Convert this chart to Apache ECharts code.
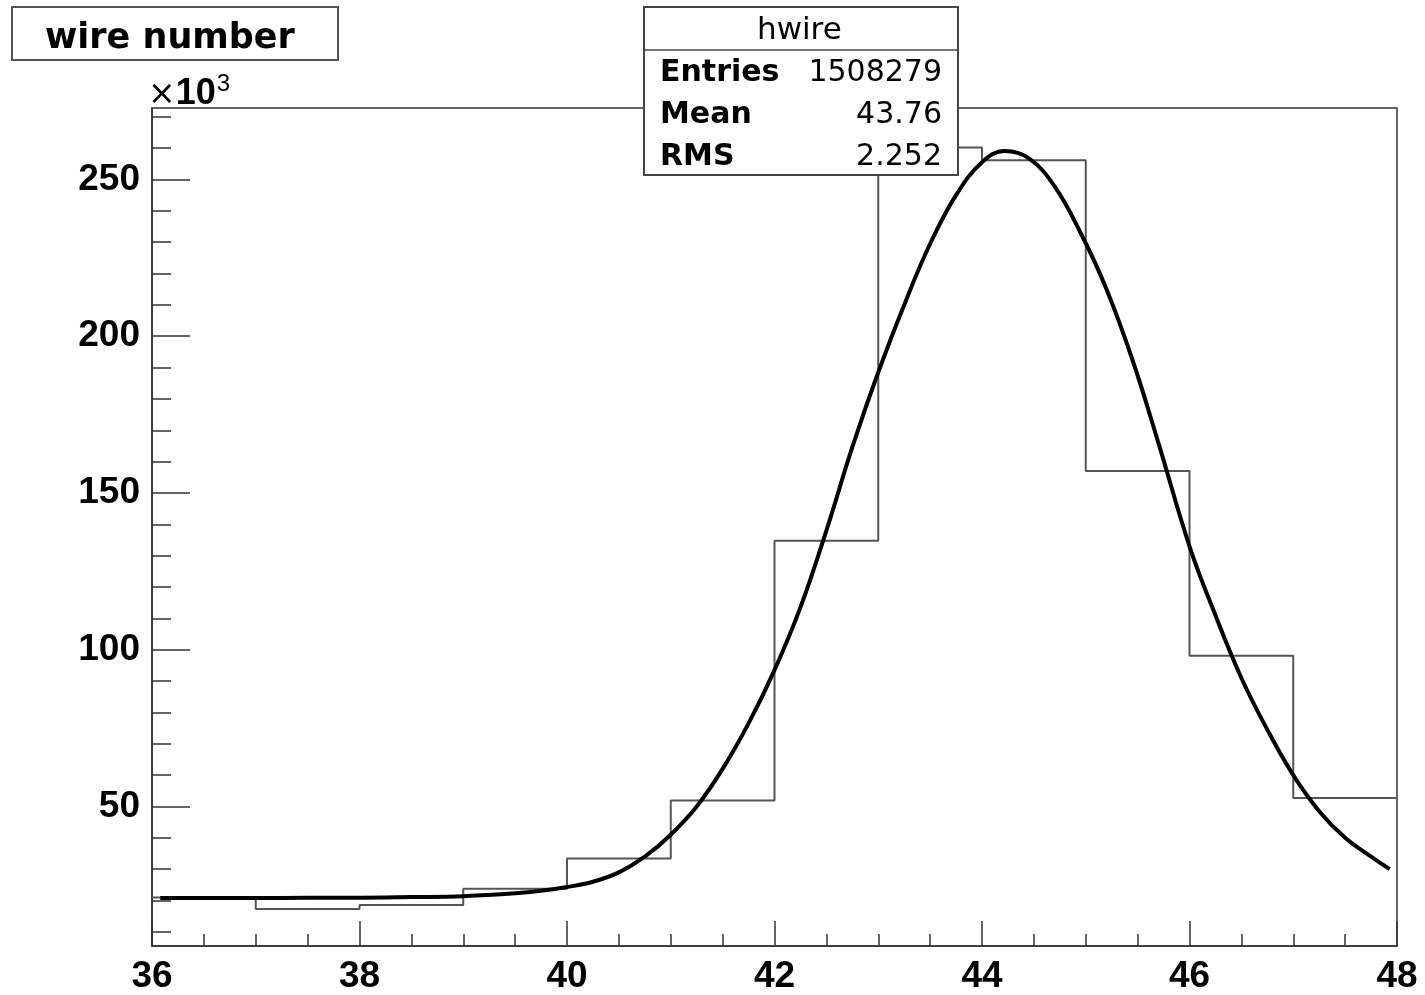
<!DOCTYPE html>
<html>
<head>
<meta charset="utf-8">
<script src="https://cdn.jsdelivr.net/npm/echarts@6/dist/echarts.min.js"></script>
<style>
html,body{margin:0;padding:0;background:#fff;}
#chart{width:1425px;height:995px;}
</style>
</head>
<body>
<div id="chart"></div>
<script>
// Histogram "hwire" (counts in units of 10^3)
const binEdges = [36, 37, 38, 39, 40, 41, 42, 43, 44, 45, 46, 47, 48];
const binCounts = [21.0, 17.3, 18.6, 23.8, 33.4, 51.9, 134.8, 260.2, 256.1, 157.0, 98.1, 52.7];

// Fit curve, points
const fitX = [36.08, 36.5, 37.0, 37.5, 38.0, 38.5, 39.0, 39.5, 39.75, 40.0, 40.25, 40.5, 40.75, 41.0, 41.25, 41.5, 41.75, 42.0, 42.25, 42.5, 42.75, 43.0, 43.25, 43.5, 43.75, 44.0, 44.22, 44.45, 44.7, 44.95, 45.2, 45.45, 45.7, 46.0, 46.25, 46.5, 46.75, 47.0, 47.25, 47.5, 47.75, 47.93];
const fitY = [20.8, 20.8, 20.8, 20.9, 20.9, 21.1, 21.4, 22.3, 23.1, 24.3, 26.0, 29.0, 34.0, 41.0, 50.0, 62.0, 76.5, 93.5, 113.5, 138.0, 164.6, 188.5, 210.0, 229.5, 245.0, 255.5, 259.1, 256.8, 247.8, 233.0, 215.0, 192.5, 166.0, 133.0, 111.0, 91.0, 74.5, 60.0, 48.5, 40.0, 34.0, 30.0];

const yMajorTicks = [50, 100, 150, 200, 250];
const yMinorTicks = [10, 20, 30, 40, 50, 60, 70, 80, 90, 100, 110, 120, 130, 140, 150, 160, 170, 180, 190, 200, 210, 220, 230, 240, 250, 260, 270];

const statsTitle = 'hwire';
const statsNames = ['Entries', 'Mean', 'RMS'];
const statsValues = ['1508279', '43.76', '2.252'];
const histTitle = 'wire number';

const histData = binEdges.map((e, i) => [e, i < binCounts.length ? binCounts[i] : binCounts[binCounts.length - 1]]);
const fitData = fitX.map((x, i) => [x, fitY[i]]);

const chart = echarts.init(document.getElementById('chart'), null, {renderer: 'canvas'});

const labelFont = {fontFamily: 'Liberation Sans', fontWeight: 'bold', fontSize: 37, color: '#000'};

const statsGraphics = [];
statsNames.forEach((n, i) => {
  const cy = 72 + i * 42;
  statsGraphics.push({
    type: 'text', z: 101, left: 660, top: cy - 14,
    style: {text: n, fontFamily: 'DejaVu Sans', fontWeight: 'bold', fontSize: 30, fill: '#000'}
  });
  statsGraphics.push({
    type: 'text', z: 101, right: 1425 - 942, top: cy - 14,
    style: {text: statsValues[i], fontFamily: 'DejaVu Sans', fontSize: 30, fill: '#000', textAlign: 'right'}
  });
});

chart.setOption({
  backgroundColor: '#fff',
  animation: false,
  grid: {
    left: 152, right: 28, top: 108, bottom: 43,
    show: true, borderColor: '#333', borderWidth: 1.5, backgroundColor: 'transparent'
  },
  xAxis: {
    type: 'value', min: 36, max: 48, interval: 2,
    axisLine: {show: true, onZero: false, lineStyle: {color: '#333', width: 1.5}},
    axisTick: {show: true, inside: true, length: 25, lineStyle: {color: '#333', width: 1.5}},
    minorTick: {show: true, splitNumber: 4, length: 12, lineStyle: {color: '#333', width: 1.5}},
    axisLabel: Object.assign({margin: 12}, labelFont),
    splitLine: {show: false}
  },
  yAxis: [
    {
      type: 'value', min: 5.5, max: 272.8,
      axisLine: {show: true, onZero: false, lineStyle: {color: '#333', width: 1.5}},
      axisTick: {show: true, inside: true, length: 38, customValues: yMajorTicks, lineStyle: {color: '#333', width: 1.5}},
      axisLabel: Object.assign({margin: 12, customValues: yMajorTicks}, labelFont),
      splitLine: {show: false}
    },
    {
      type: 'value', min: 5.5, max: 272.8, position: 'left',
      axisLine: {show: false},
      axisTick: {show: true, inside: true, length: 19, customValues: yMinorTicks, lineStyle: {color: '#333', width: 1.5}},
      axisLabel: {show: false},
      splitLine: {show: false}
    }
  ],
  series: [
    {
      type: 'line', name: 'hwire', data: histData, step: 'end',
      showSymbol: false, symbol: 'none', clip: true,
      lineStyle: {color: '#555', width: 2}, z: 2
    },
    {
      type: 'line', name: 'fit', data: fitData, smooth: 0.4,
      showSymbol: false, symbol: 'none',
      lineStyle: {color: '#000', width: 4}, z: 3
    }
  ],
  graphic: [
    {
      type: 'rect', z: 100, shape: {x: 12, y: 7, width: 326, height: 53},
      style: {fill: '#fff', stroke: '#555', lineWidth: 2}
    },
    {
      type: 'text', z: 101, left: 45, top: 21,
      style: {text: histTitle, fontFamily: 'DejaVu Sans', fontWeight: 'bold', fontSize: 35, fill: '#000'}
    },
    {
      type: 'rect', z: 100, shape: {x: 644, y: 7, width: 314, height: 168},
      style: {fill: '#fff', stroke: '#444', lineWidth: 2}
    },
    {
      type: 'line', z: 101, shape: {x1: 644, y1: 50, x2: 958, y2: 50},
      style: {stroke: '#444', lineWidth: 1.5}
    },
    {
      type: 'text', z: 101, left: 757, top: 15,
      style: {text: statsTitle, fontFamily: 'DejaVu Sans', fontSize: 31, fill: '#000'}
    },
    ...statsGraphics,
    {
      type: 'text', z: 101, left: 148, top: 72,
      style: {
        text: '{m|×}{b|10}{s|3}',
        rich: {
          m: {fontFamily: 'DejaVu Sans', fontSize: 33, fill: '#000', verticalAlign: 'bottom'},
          b: {fontFamily: 'Liberation Sans', fontWeight: 'bold', fontSize: 36, fill: '#000', verticalAlign: 'bottom'},
          s: {fontFamily: 'Liberation Sans', fontSize: 24, fill: '#000', verticalAlign: 'top', padding: [0, 0, 16, 1]}
        }
      }
    }
  ]
});
</script>
</body>
</html>
